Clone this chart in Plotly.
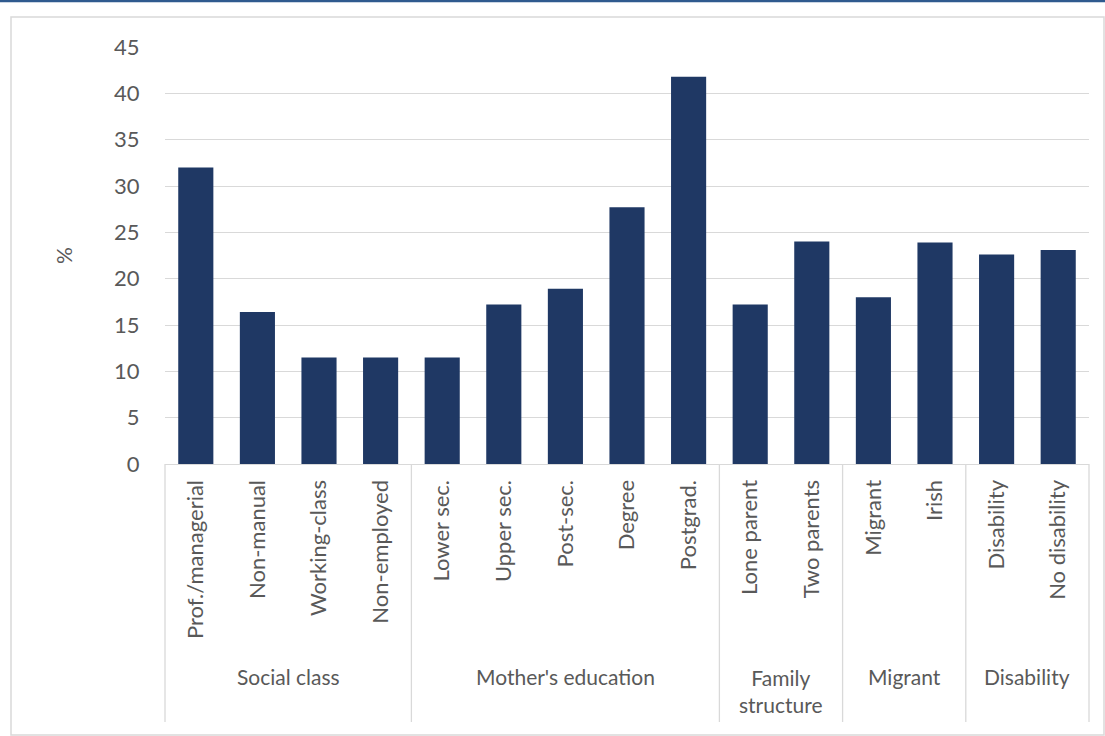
import plotly.graph_objects as go

categories = ["Prof./managerial", "Non-manual", "Working-class", "Non-employed",
              "Lower sec.", "Upper sec.", "Post-sec.", "Degree", "Postgrad.",
              "Lone parent", "Two parents", "Migrant", "Irish",
              "Disability", "No disability"]
values = [32.0, 16.4, 11.5, 11.5, 11.5, 17.2, 18.9, 27.7, 41.8, 17.2, 24.0, 18.0, 23.9, 22.6, 23.1]
groups = ["Social class", "Mother's education", "Family<br>structure", "Migrant", "Disability"]
group_sizes = [4, 5, 2, 2, 2]
y_ticks = [0, 5, 10, 15, 20, 25, 30, 35, 40, 45]

FONT = "Lato"
FS = 22
TXT = "#595959"
GRID = "#D9D9D9"
BAR = "#1F3864"

W, H = 1105, 736
L, R, T, B = 165, 16, 47, 272
pw, ph = W - L - R, H - T - B

def px_to_paper_x(px):
    return (px - L) / pw

def px_to_paper_y(py):
    return (H - B - py) / ph

fig = go.Figure()
fig.add_trace(go.Bar(x=categories, y=values, marker=dict(color=BAR, line=dict(width=0)),
                     width=0.57, hoverinfo="x+y"))

shapes = []
annotations = []
n = len(categories)
start = 0
bounds = [0]
for g, s in zip(groups, group_sizes):
    center = start + (s - 1) / 2
    yc_px = 676 if "<br>" not in g else 691
    annotations.append(dict(x=center, xref="x", y=px_to_paper_y(yc_px), yref="paper",
                            text=g, showarrow=False, font=dict(family=FONT, size=21, color=TXT),
                            xanchor="center", yanchor="middle", align="center"))
    start += s
    bounds.append(start)

for b in bounds:
    xp = b / n
    shapes.append(dict(type="line", xref="paper", yref="paper", x0=xp, x1=xp,
                       y0=0, y1=px_to_paper_y(722), line=dict(color=GRID, width=1.3)))

# outer border
shapes.append(dict(type="rect", xref="paper", yref="paper",
                   x0=px_to_paper_x(11), x1=px_to_paper_x(1104),
                   y0=px_to_paper_y(735), y1=px_to_paper_y(17),
                   line=dict(color=GRID, width=1.5), layer="below"))
# top blue line
shapes.append(dict(type="line", xref="paper", yref="paper",
                   x0=px_to_paper_x(0), x1=px_to_paper_x(W),
                   y0=px_to_paper_y(1), y1=px_to_paper_y(1),
                   line=dict(color="#2F5A8E", width=2.5)))

annotations.append(dict(x=px_to_paper_x(63), xref="paper", y=px_to_paper_y(256), yref="paper",
                        text="%", showarrow=False, textangle=-90,
                        xanchor="center", yanchor="middle",
                        font=dict(family=FONT, size=21, color=TXT)))

fig.update_layout(
    width=W, height=H,
    margin=dict(l=L, r=R, t=T, b=B, pad=0),
    paper_bgcolor="white", plot_bgcolor="white",
    showlegend=False,
    bargap=0.43,
    shapes=shapes, annotations=annotations,
    xaxis=dict(type="category", tickangle=-90, tickfont=dict(family=FONT, size=FS, color=TXT),
               showgrid=False, showline=True, linecolor=GRID, linewidth=1.3,
               ticks="outside", ticklen=6, tickcolor="rgba(0,0,0,0)", fixedrange=True),
    yaxis=dict(range=[0, 45], tickvals=y_ticks, tickfont=dict(family=FONT, size=FS, color=TXT),
               showgrid=True, gridcolor=GRID, gridwidth=1.3, zeroline=False,
               ticks="outside", ticklen=20, tickcolor="rgba(0,0,0,0)", fixedrange=True),
)

fig.write_html("out.html", config={"displayModeBar": False},
               post_script="document.body.style.margin='0';document.body.style.padding='0';"
                           "document.documentElement.style.overflow='hidden';")
